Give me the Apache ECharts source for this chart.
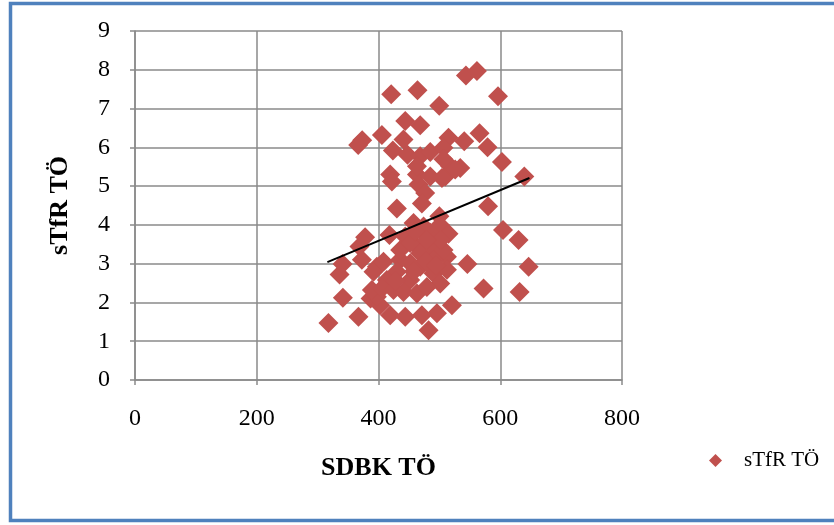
<!DOCTYPE html>
<html><head><meta charset="utf-8">
<script src="https://cdn.jsdelivr.net/npm/echarts@6/dist/echarts.min.js"></script>
<style>html,body{margin:0;padding:0;background:#fff}#c{width:834px;height:525px}</style>
</head><body><div id="c"></div>
<script>
// SDBK TÖ (x) values
const sdbk = [543.6,561.7,420.8,464.1,596.3,499.8,443.9,468.5,366.6,373.2,405.6,441.1,515,540.9,566,579.2,
  423.6,447.6,468.5,485,506.8,602.8,639.5,419.2,422,463.1,465.7,485,509.6,517.8,534.3,463.1,506.8,526,504.2,
  476.7,430.2,471.3,580,
  457.6,500,501,515,378,418,444,474,485,490.4,463.1,482.2,501.4,512.4,372.7,341,546,397.3,435.6,452.1,
  604.5,630.1,368.7,336,391.8,408.2,646.6,341.5,572.6,631.8,387,402.8,367.1,317.8,419.2,443.9,471.3,496,
  520.6,482.2,430.2,452.1,468.5,490.4,501.4,441.1,463.1,479.5,413.8,435.6,452.1,468.5,490.4,506.8,490.4,
  501.4,512.4,397.3,389.1,405.6,424.6,474,460.3,479.5,428,458,478,495];
// sTfR TÖ (y) values
const stfr = [7.85,7.97,7.37,7.47,7.32,7.07,6.68,6.57,6.06,6.18,6.32,6.2,6.25,6.16,6.36,6.0,
  5.92,5.81,5.77,5.88,5.99,5.62,5.25,5.3,5.12,5.3,5.04,5.25,5.25,5.51,5.47,5.51,5.69,5.43,5.21,
  4.82,4.42,4.55,4.48,
  4.05,4.22,4.0,3.77,3.68,3.74,3.7,3.79,3.8,3.57,3.44,3.35,3.35,3.18,3.1,2.99,2.99,2.92,3.1,3.01,
  3.87,3.61,3.44,2.72,2.79,3.05,2.92,2.12,2.36,2.27,2.1,1.93,1.63,1.47,1.67,1.63,1.67,1.72,
  1.93,1.28,2.79,2.58,2.92,2.75,2.49,2.27,2.23,2.4,2.58,3.35,3.53,3.27,3.44,3.35,3.1,
  3.61,2.84,2.15,2.32,2.36,2.32,3.96,3.83,3.61,2.55,2.8,3.05,2.95];
// linear trendline endpoints
const trendX = [316, 648];
const trendY = [3.04, 5.21];
const xTicks = [0, 200, 400, 600, 800];
const yTicks = [0,1,2,3,4,5,6,7,8,9];
const seriesName = 'sTfR TÖ';
const xName = 'SDBK TÖ';
const yName = 'sTfR TÖ';

const pts = sdbk.map((x,i)=>[x, stfr[i]]);
const trend = trendX.map((x,i)=>[x, trendY[i]]);
const FONT = "'Liberation Serif','Times New Roman',serif";
const gridCol = '#8a8a8a';
const chart = echarts.init(document.getElementById('c'), null, {renderer:'canvas'});
chart.setOption({
  animation:false,
  backgroundColor:'#fff',
  graphic:[{type:'rect', shape:{x:10.5,y:3.5,width:900,height:517}, style:{fill:'none',stroke:'#4F81BD',lineWidth:3.5}, silent:true, z:-1}],
  grid:{left:135, top:31, width:487, height:349, containLabel:false},
  xAxis:{type:'value', min:0, max:800, interval:200,
    name:xName, nameLocation:'middle', nameGap:75,
    nameTextStyle:{fontFamily:FONT, fontSize:26, fontWeight:'bold', color:'#000'},
    axisLine:{show:true, onZero:false, lineStyle:{color:gridCol, width:1.5}},
    axisTick:{show:true, length:5, lineStyle:{color:gridCol, width:1.5}},
    axisLabel:{fontFamily:FONT, fontSize:24, color:'#000', margin:27, formatter:v=>xTicks.includes(v)?String(v):''},
    splitLine:{show:true, lineStyle:{color:gridCol, width:1.5}}},
  yAxis:{type:'value', min:0, max:9, interval:1,
    name:yName, nameLocation:'middle', nameGap:62, nameRotate:90,
    nameTextStyle:{fontFamily:FONT, fontSize:26, fontWeight:'bold', color:'#000'},
    axisLine:{show:true, onZero:false, lineStyle:{color:gridCol, width:1.5}},
    axisTick:{show:true, length:5, lineStyle:{color:gridCol, width:1.5}},
    axisLabel:{fontFamily:FONT, fontSize:24, color:'#000', margin:25, formatter:v=>yTicks.includes(v)?String(v):''},
    splitLine:{show:true, lineStyle:{color:gridCol, width:1.5}}},
  legend:{data:[{name:seriesName, icon:'diamond'}], left:704, top:445, itemWidth:13, itemHeight:13,
    textStyle:{fontFamily:FONT, fontSize:21, color:'#000', padding:[0,0,0,17]}},
  series:[
    {name:seriesName, type:'scatter', data:pts, symbol:'diamond', symbolSize:20,
      itemStyle:{color:'#C0504D', opacity:1}, z:2},
    {name:'trend', type:'line', data:trend, symbol:'none', lineStyle:{color:'#000', width:2}, z:3, silent:true}
  ]
});
</script></body></html>
